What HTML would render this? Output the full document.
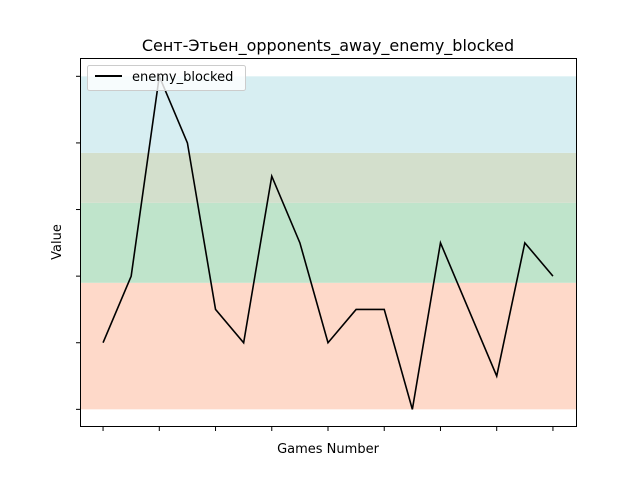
<!DOCTYPE html>
<html><head><meta charset="utf-8"><style>
body{margin:0;background:#fff;font-family:"Liberation Sans","DejaVu Sans",sans-serif}
</style></head><body>
<svg width="640" height="480" xmlns="http://www.w3.org/2000/svg" font-family="DejaVu Sans, Liberation Sans, sans-serif">
<rect width="640" height="480" fill="#fff"/>
<g id="bands"></g>
<g id="plot"></g>
<rect x="80.5" y="58.5" width="496" height="368" fill="none" stroke="#000" stroke-width="1"/>
<g id="ticks"></g>
<text x="328" y="51" text-anchor="middle" font-size="16">Сент-Этьен_opponents_away_enemy_blocked</text>
<text x="328" y="453" text-anchor="middle" font-size="13">Games Number</text>
<text x="61" y="242" text-anchor="middle" font-size="13" transform="rotate(-90 61 242)">Value</text>
<g>
<rect x="87.5" y="65.5" width="158" height="25" rx="2" fill="#fff" fill-opacity="0.8" stroke="#ccc"/>
<line x1="95" y1="76" x2="122" y2="76" stroke="#000" stroke-width="2"/>
<text x="132" y="81" font-size="13">enemy_blocked</text>
</g>
<script>
const values=[2,4,10,8,3,2,7,5,2,3,3,0,5,3,1,5,4];
const bandLo=[0,3.8,6.2,7.7];
const bandHi=[3.8,6.2,7.7,10];
const bandColors=["#fed9c9","#bfe4cb","#d3dfcc","#d7eef2"];
const yTicks=[0,2,4,6,8,10];
const xTicks=[0,2,4,6,8,10,12,14,16];
const X=i=>80+(i+0.82)*(496/17.64);
const Y=v=>426-(v+0.5)*(368/11.05);
const ns="http://www.w3.org/2000/svg";
const bands=document.getElementById('bands');
bandLo.forEach((lo,i)=>{const r=document.createElementNS(ns,'rect');
r.setAttribute('x',80);r.setAttribute('width',496);
r.setAttribute('y',Y(bandHi[i]));r.setAttribute('height',Y(lo)-Y(bandHi[i]));
r.setAttribute('fill',bandColors[i]);


bands.appendChild(r);});
const p=document.createElementNS(ns,'polyline');
p.setAttribute('points',values.map((v,i)=>X(i)+','+Y(v)).join(' '));
p.setAttribute('fill','none');p.setAttribute('stroke','#000');p.setAttribute('stroke-width','1.6');


document.getElementById('plot').appendChild(p);
const t=document.getElementById('ticks');
yTicks.forEach(v=>{const l=document.createElementNS(ns,'line');
l.setAttribute('x1',76);l.setAttribute('x2',80);l.setAttribute('y1',Y(v));l.setAttribute('y2',Y(v));l.setAttribute('stroke','#000');


t.appendChild(l);});
xTicks.forEach(v=>{const l=document.createElementNS(ns,'line');
l.setAttribute('x1',X(v));l.setAttribute('x2',X(v));l.setAttribute('y1',427);l.setAttribute('y2',431);l.setAttribute('stroke','#000');


t.appendChild(l);});
</script>
</svg>
</body></html>
